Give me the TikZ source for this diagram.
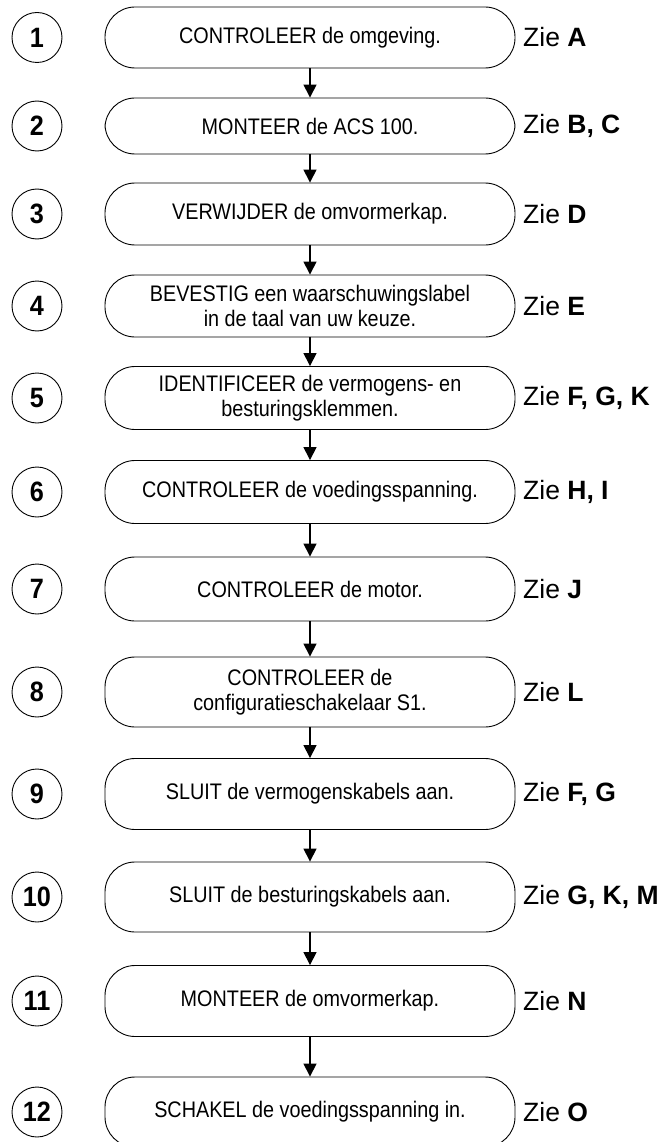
\documentclass[tikz,border=0pt]{standalone}
\usepackage{fontspec}
\setmainfont{Liberation Sans}
\newfontfamily\boxfont[FakeStretch=0.88]{Liberation Sans}
\newfontfamily\numfont[FakeStretch=0.9]{Liberation Sans}
\usetikzlibrary{arrows.meta}
\tikzset{
  stepbox/.style={draw, line width=0.9pt, rounded corners=30pt, minimum width=410pt, align=center, font=\boxfont\fontsize{22.5}{25}\selectfont, inner sep=2pt},
  circ/.style={draw, circle, line width=0.9pt, minimum size=50pt, inner sep=0pt, font=\numfont\fontsize{28}{30}\selectfont\bfseries},
  zie/.style={anchor=west, inner sep=0pt, font=\fontsize{26.5}{28}\selectfont},
  arr/.style={line width=1.5pt, -{Triangle[length=13pt,width=13pt]}}
}
\begin{document}
\begin{tikzpicture}[x=1pt,y=-1pt]
\clip (0,0) rectangle (665,1142);
\fill[white] (0,0) rectangle (665,1142);
% boxes
\node[stepbox, minimum height=61pt] (b1) at (310,37.5) {CONTROLEER de omgeving.};
\node[stepbox, minimum height=56pt] (b2) at (310,126) {MONTEER de ACS 100.};
\node[stepbox, minimum height=62pt] (b3) at (310,214) {VERWIJDER de omvormerkap.};
\node[stepbox, minimum height=62pt] (b4) at (310,306) {BEVESTIG een waarschuwingslabel\\in de taal van uw keuze.};
\node[stepbox, minimum height=63pt] (b5) at (310,398) {IDENTIFICEER de vermogens- en\\besturingsklemmen.};
\node[stepbox, minimum height=63pt] (b6) at (310,492) {CONTROLEER de voedingsspanning.};
\node[stepbox, minimum height=64pt] (b7) at (310,589) {CONTROLEER de motor.};
\node[stepbox, minimum height=70pt] (b8) at (310,692) {CONTROLEER de\\configuratieschakelaar S1.};
\node[stepbox, minimum height=71pt] (b9) at (310,794) {SLUIT de vermogenskabels aan.};
\node[stepbox, minimum height=70pt] (b10) at (310,897) {SLUIT de besturingskabels aan.};
\node[stepbox, minimum height=71pt] (b11) at (310,1001) {MONTEER de omvormerkap.};
\node[stepbox, minimum height=70pt] (b12) at (310,1112) {SCHAKEL de voedingsspanning in.};
% circles
\foreach \i/\y in {1/37.5,2/126,3/214,4/306,5/398,6/492,7/589,8/692,9/794,10/897,11/1001,12/1112}
  \node[circ] (n\i) at (37,\y) {\i};
% labels
\node[zie] (z1) at (523,37.5) {Zie \textbf{A}};
\node[zie] (z2) at (523,126) {Zie \textbf{B, C}};
\node[zie] (z3) at (523,214) {Zie \textbf{D}};
\node[zie] (z4) at (523,306) {Zie \textbf{E}};
\node[zie] (z5) at (523,398) {Zie \textbf{F, G, K}};
\node[zie] (z6) at (523,492) {Zie \textbf{H, I}};
\node[zie] (z7) at (523,589) {Zie \textbf{J}};
\node[zie] (z8) at (523,692) {Zie \textbf{L}};
\node[zie] (z9) at (523,794) {Zie \textbf{F, G}};
\node[zie] (z10) at (523,897) {Zie \textbf{G, K, M}};
\node[zie] (z11) at (523,1001) {Zie \textbf{N}};
\node[zie] (z12) at (523,1112) {Zie \textbf{O}};
% arrows
\foreach \a/\b in {1/2,2/3,3/4,4/5,5/6,6/7,7/8,8/9,9/10,10/11,11/12}
  \draw[arr] (b\a.south) -- (b\b.north);
\end{tikzpicture}
\end{document}
